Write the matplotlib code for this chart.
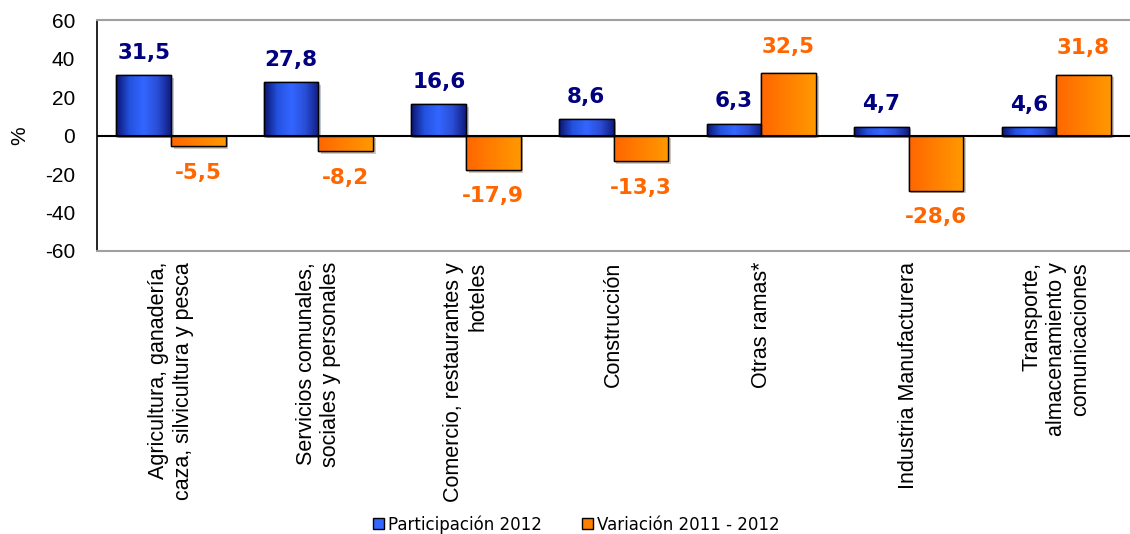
import numpy as np
import matplotlib
matplotlib.use("Agg")
import matplotlib.pyplot as plt
from matplotlib.patches import Patch
from matplotlib.colors import LinearSegmentedColormap
import matplotlib.patheffects as pe

plt.rcParams['font.family'] = ['Liberation Sans', 'DejaVu Sans']
plt.rcParams['axes.unicode_minus'] = False

# Datos
categorias = [
    "Agricultura, ganadería,\ncaza, silvicultura y pesca",
    "Servicios comunales,\nsociales y personales",
    "Comercio, restaurantes y\nhoteles",
    "Construcción",
    "Otras ramas*",
    "Industria Manufacturera",
    "Transporte,\nalmacenamiento y\ncomunicaciones",
]
participacion = [31.5, 27.8, 16.6, 8.6, 6.3, 4.7, 4.6]
variacion = [-5.5, -8.2, -17.9, -13.3, 32.5, -28.6, 31.8]
series = ["Participación 2012", "Variación 2011 - 2012"]

# Gradientes tipo Excel
cmap_azul = LinearSegmentedColormap.from_list(
    "azul", ["#0b1470", "#2452e0", "#3366ff", "#2a4fd8", "#101c80"])
cmap_naranja = LinearSegmentedColormap.from_list(
    "naranja", ["#ff6600", "#ff8000", "#ff9900"])
grad = np.linspace(0, 1, 256).reshape(1, -1)

fig = plt.figure(figsize=(11.3, 5.34), dpi=100)
ax = fig.add_axes([0.086, 0.530, 0.914, 0.432])

x = np.arange(len(categorias))
w = 0.37

sombra = [pe.SimplePatchShadow(offset=(2, -2), alpha=0.25), pe.Normal()]
b1 = ax.bar(x - w / 2, participacion, w, color="#3366ff", edgecolor="black",
            linewidth=1, zorder=3, path_effects=sombra)
b2 = ax.bar(x + w / 2, variacion, w, color="#ff8000", edgecolor="black",
            linewidth=1, zorder=3, path_effects=sombra)

# Relleno degradado recortado a cada barra
for barras, cmap in [(b1, cmap_azul), (b2, cmap_naranja)]:
    for bar in barras:
        x0, y0 = bar.get_x(), bar.get_y()
        x1, y1 = x0 + bar.get_width(), y0 + bar.get_height()
        im = ax.imshow(grad, extent=[x0, x1, min(y0, y1), max(y0, y1)],
                       aspect='auto', cmap=cmap, zorder=3.5, interpolation='bilinear')
        im.set_clip_path(bar)

# Bordes encima del degradado
ax.bar(x - w / 2, participacion, w, fill=False, edgecolor="black", linewidth=1, zorder=4)
ax.bar(x + w / 2, variacion, w, fill=False, edgecolor="black", linewidth=1, zorder=4)

# Etiquetas de valores
for xi, v in zip(x - w / 2, participacion):
    ax.annotate(f"{v:.1f}".replace(".", ","), (xi, v), xytext=(0, 16),
                textcoords="offset points", ha="center", va="center",
                fontsize=15.5, fontweight="bold", color="#000080", family="DejaVu Sans")
for xi, v in zip(x + w / 2, variacion):
    off = 19 if v > 0 else -19
    ax.annotate(f"{v:.1f}".replace(".", ","), (xi, v), xytext=(0, off),
                textcoords="offset points", ha="center", va="center",
                fontsize=15.5, fontweight="bold", color="#ff6600", family="DejaVu Sans")

ax.axhline(0, color="black", linewidth=1.5, zorder=5)

ax.set_xlim(-0.5, len(categorias) - 0.5)
ax.set_ylim(-60, 60)
ax.set_yticks(range(-60, 61, 20))
ax.set_xticks(x)
ax.set_xticklabels(categorias, rotation=90, ha="center", va="top",
                   multialignment="right", fontsize=15.5)
ax.tick_params(axis="both", length=0)
ax.tick_params(axis="y", labelsize=15, pad=16)
ax.tick_params(axis="x", pad=8)
ax.set_ylabel("%", fontsize=15, labelpad=11)

ax.spines['left'].set_color("black")
ax.spines['left'].set_linewidth(1.2)
ax.spines['right'].set_visible(False)
for s in ['top', 'bottom']:
    ax.spines[s].set_color("#a0a0a0")
    ax.spines[s].set_linewidth(1.5)

handles = [Patch(facecolor="#3366ff", edgecolor="black", label=series[0]),
           Patch(facecolor="#ff8000", edgecolor="black", label=series[1])]
fig.legend(handles=handles, loc="center", bbox_to_anchor=(0.51, 0.018), ncol=2,
           frameon=False, handlelength=0.65, handleheight=0.65,
           handletextpad=0.25, columnspacing=2.4,
           prop={"family": "DejaVu Sans", "size": 12})

plt.savefig("out.png", dpi=100)
plt.close()
